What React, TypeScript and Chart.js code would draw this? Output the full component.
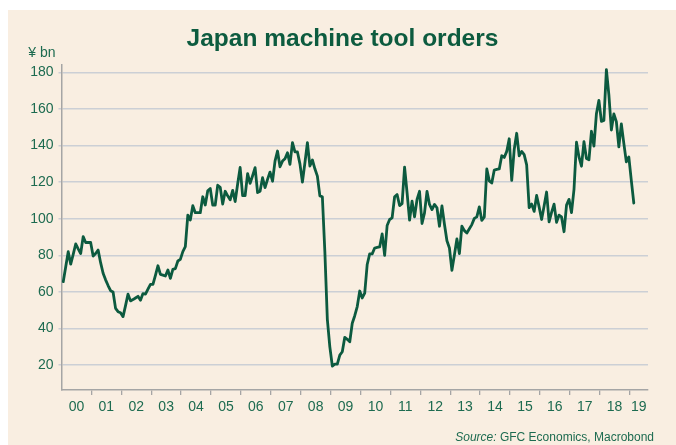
import React, { useEffect, useRef } from 'react';
import { Chart, registerables } from 'chart.js';

Chart.register(...registerables);

// ---- Data (¥ bn, monthly, Jan 2000 onward) ----
const YEAR_LABELS = ['00', '01', '02', '03', '04', '05', '06', '07', '08', '09', '10', '11', '12', '13', '14', '15', '16', '17', '18', '19'];
const Y_TICKS = [20, 40, 60, 80, 100, 120, 140, 160, 180];

const ORDERS_2000 = [65.6, 73.8, 82, 75.2, 80.5, 86.2, 83.5, 81, 90.2, 87, 87, 87];
const ORDERS_2001 = [79.6, 81, 82.9, 76, 70.2, 66.6, 63.5, 60.7, 60, 51, 49.2, 48.6];
const ORDERS_2002 = [46.5, 52.5, 58.8, 55.1, 55.8, 56.7, 57.6, 55.5, 59.1, 58.8, 61.5, 64.1];
const ORDERS_2003 = [64.1, 69, 74.3, 69.6, 69.2, 68.7, 72, 67.4, 72.3, 72.7, 76.9, 77.8];
const ORDERS_2004 = [82, 84.7, 102, 99.3, 107.1, 103.3, 103.3, 103.3, 112, 107.5, 115.3, 116.5];
const ORDERS_2005 = [107.5, 107.5, 118.3, 117.2, 108, 115, 112.5, 110.3, 115.5, 109.4, 119, 128];
const ORDERS_2006 = [112.6, 112.6, 124.6, 119.3, 123.5, 127.9, 114.3, 115, 122.4, 117, 121.5, 125.5];
const ORDERS_2007 = [120.5, 131.5, 137, 128.4, 131.5, 132.8, 136.1, 129.7, 141.6, 136.5, 136.5, 130];
const ORDERS_2008 = [120, 130.6, 141.6, 128.8, 132.1, 127.3, 123.3, 112.5, 112, 82, 45, 30];
const ORDERS_2009 = [19.5, 20.5, 20.5, 25.5, 27.3, 35.2, 34.1, 32.8, 42.9, 47, 52, 60.5];
const ORDERS_2010 = [56.7, 59.4, 75, 80.8, 80.8, 84, 84.3, 84.6, 91.7, 80, 96.3, 99.6];
const ORDERS_2011 = [100.5, 112, 113.2, 107.2, 108.3, 128.2, 114.2, 99.2, 109.6, 101, 110.5, 115];
const ORDERS_2012 = [97.4, 103.2, 115, 107.8, 105, 107.8, 106, 95.9, 107, 97, 88, 84];
const ORDERS_2013 = [71.8, 80.2, 89, 81, 96, 93.5, 92.2, 94.5, 96.8, 100.2, 101, 106.5];
const ORDERS_2014 = [99.1, 101, 127.2, 120.7, 119.5, 126.6, 127, 127.2, 134.4, 133.5, 136.8, 143.7];
const ORDERS_2015 = [121, 137.8, 146.7, 134.4, 136.8, 135, 129.4, 106.1, 108, 104, 112.7, 106.5];
const ORDERS_2016 = [99.6, 107, 114.6, 98.3, 103.5, 108, 98, 102, 101, 92.9, 107.5, 110.6];
const ORDERS_2017 = [103.3, 116, 141.8, 133.8, 128.7, 142.1, 132.9, 132.2, 147.8, 139.7, 157.4, 164.7];
const ORDERS_2018 = [153.2, 153.7, 181.5, 167.7, 148.5, 157.3, 153.1, 139.3, 151.8, 141.2, 131.1, 133.8];
const ORDERS_2019 = [121, 108.6];

const ALL_ORDERS = [
  ...ORDERS_2000, ...ORDERS_2001, ...ORDERS_2002, ...ORDERS_2003, ...ORDERS_2004,
  ...ORDERS_2005, ...ORDERS_2006, ...ORDERS_2007, ...ORDERS_2008, ...ORDERS_2009,
  ...ORDERS_2010, ...ORDERS_2011, ...ORDERS_2012, ...ORDERS_2013, ...ORDERS_2014,
  ...ORDERS_2015, ...ORDERS_2016, ...ORDERS_2017, ...ORDERS_2018, ...ORDERS_2019,
];

// ---- Axis / style settings ----
const X_MAX = 235.4; // months from Jan 2000 to axis end
const Y_MIN = 6.4;
const Y_MAX = 184.4;
const MONTH_OFFSET = 0.7;

const BG = '#f9eee1';
const LINE = '#0c5a3f';
const TEXT = '#1d6b50';
const TITLE = '#0d5b3f';
const GRID = '#cccfd5';
const AXIS = '#a5a5a5';
const FONT = '"Liberation Sans", Arial, sans-serif';

const YEAR_BOUNDS = YEAR_LABELS.slice(1).map((_, k) => 12 * (k + 1));
const LABEL_POS = YEAR_LABELS.map((_, k) => (12 * k + Math.min(12 * k + 12, X_MAX)) / 2);

export default function App() {
  const ref = useRef<HTMLCanvasElement>(null);

  useEffect(() => {
    Chart.defaults.font.family = FONT;
    const chart = new Chart(ref.current as HTMLCanvasElement, {
      type: 'line',
      data: {
        datasets: [
          {
            data: ALL_ORDERS.map((v, i) => ({ x: i + MONTH_OFFSET, y: v })),
            borderColor: LINE,
            borderWidth: 2.8,
            pointRadius: 0,
            tension: 0,
            fill: false,
            borderJoinStyle: 'round',
            borderCapStyle: 'round',
          },
        ],
      },
      options: {
        responsive: false,
        devicePixelRatio: 1,
        animation: false,
        events: [],
        layout: { padding: { left: 0, right: 28, top: 54.3, bottom: 20 } },
        plugins: {
          legend: { display: false },
          tooltip: { enabled: false },
          title: { display: false },
        },
        scales: {
          x: {
            type: 'linear',
            position: 'bottom',
            weight: 0,
            min: 0,
            max: X_MAX,
            afterBuildTicks: (s: any) => {
              s.ticks = YEAR_BOUNDS.map((v) => ({ value: v }));
            },
            afterFit: (s: any) => {
              s.height = 5;
            },
            ticks: { display: false },
            grid: { display: true, drawOnChartArea: false, drawTicks: true, tickLength: 5, color: AXIS, lineWidth: 1.3 },
            border: { display: true, color: AXIS, width: 1.5 },
          },
          xl: {
            type: 'linear',
            position: 'bottom',
            weight: 1,
            min: 0,
            max: X_MAX,
            afterBuildTicks: (s: any) => {
              s.ticks = LABEL_POS.map((v) => ({ value: v }));
            },
            afterFit: (s: any) => {
              s.height = 30;
            },
            ticks: {
              autoSkip: false,
              maxRotation: 0,
              minRotation: 0,
              padding: 4,
              color: TEXT,
              font: { size: 14, family: FONT },
              callback: (_v: any, i: number) => YEAR_LABELS[i],
            },
            grid: { display: false, drawTicks: false },
            border: { display: false },
          },
          y: {
            type: 'linear',
            min: Y_MIN,
            max: Y_MAX,
            afterBuildTicks: (s: any) => {
              s.ticks = Y_TICKS.map((v) => ({ value: v }));
            },
            afterFit: (s: any) => {
              s.width = 53.5;
            },
            ticks: { color: TEXT, font: { size: 14, family: FONT }, padding: 5 },
            grid: { color: GRID, lineWidth: 1.5, drawTicks: true, tickLength: 3 },
            border: { display: true, color: AXIS, width: 1.5 },
          },
        },
      } as any,
    });
    return () => chart.destroy();
  }, []);

  return (
    <div
      style={{
        position: 'fixed',
        left: 8,
        top: 10,
        width: 668,
        height: 435,
        background: BG,
        overflow: 'hidden',
        fontFamily: FONT,
      }}
    >
      <canvas ref={ref} width={668} height={435} style={{ display: 'block', width: 668, height: 435 }} />
      <div
        style={{
          position: 'absolute',
          left: 0,
          width: 669,
          top: 12.5,
          textAlign: 'center',
          fontSize: 24.5,
          fontWeight: 'bold',
          lineHeight: '29px',
          color: TITLE,
          whiteSpace: 'nowrap',
        }}
      >
        Japan machine tool orders
      </div>
      <div
        style={{
          position: 'absolute',
          left: 20.3,
          top: 33.5,
          fontSize: 14,
          lineHeight: '16px',
          color: TEXT,
          whiteSpace: 'nowrap',
        }}
      >
        ¥ bn
      </div>
      <div
        style={{
          position: 'absolute',
          right: 22,
          top: 420,
          fontSize: 12,
          lineHeight: '14px',
          color: TEXT,
          whiteSpace: 'nowrap',
        }}
      >
        <i>Source:</i> GFC Economics, Macrobond
      </div>
    </div>
  );
}
